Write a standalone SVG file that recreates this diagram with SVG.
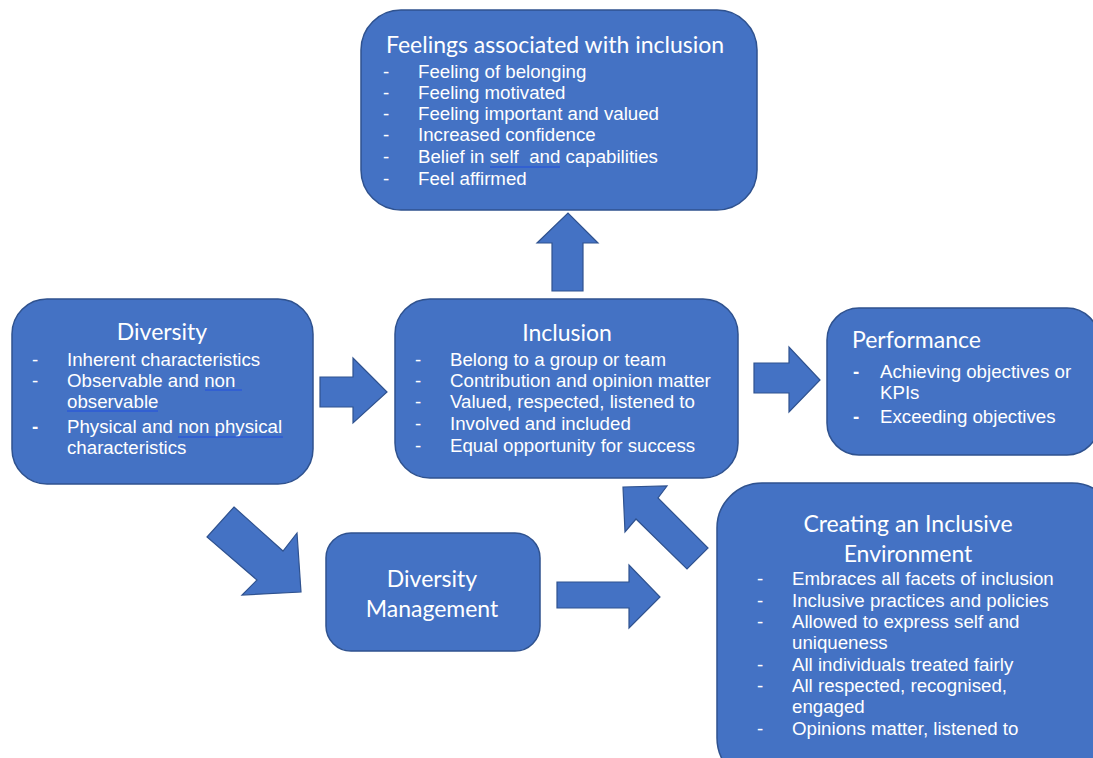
<svg xmlns="http://www.w3.org/2000/svg" width="1093" height="758" viewBox="0 0 1093 758">
<style>
.box{fill:#4472C4;stroke:#2F528F;stroke-width:1.5}
.arr{fill:#4472C4;stroke:#2F528F;stroke-width:1.2}
.ttl{font-family:Lato,"Open Sans",sans-serif;font-size:23px;fill:#fff}
.itm{font-family:"Liberation Sans",Arial,sans-serif;font-size:18.7px;fill:#fff}
.ul{stroke:#2D5BD6;stroke-width:1.4;fill:none}
</style>
<rect width="1093" height="758" fill="#fff"/>
<g id="connectors">
<polygon class="arr" points="552,291 583,291 583,243 598,243 568,213 537,243 552,243"/>
<polygon class="arr" points="320,377 353,377 353,358 387,392 353,423 353,407 320,407"/>
<polygon class="arr" points="754,363 789,363 789,347 820,380 789,412 789,393 754,393"/>
<polygon class="arr" points="557,582 629,582 629,565 660,597 629,628 629,608 557,608"/>
<polygon class="arr" points="234,507 283,551 297,533 301,592 242,595 257,580 207,537"/>
<polygon class="arr" points="623,487 667,486 658,498 708,548 687,569 636,519 625,532"/>
</g>
<g id="feelings">
<rect class="box" x="361" y="10" width="396" height="200" rx="40"/>
<text class="ttl" x="555" y="53" text-anchor="middle">Feelings associated with inclusion</text>
<g class="itm">
<text x="383" y="78">-</text><text x="418" y="78">Feeling of belonging</text>
<text x="383" y="99">-</text><text x="418" y="99">Feeling motivated</text>
<text x="383" y="120">-</text><text x="418" y="120">Feeling important and valued</text>
<text x="383" y="141">-</text><text x="418" y="141">Increased confidence</text>
<text x="383" y="163">-</text><text x="418" y="163" xml:space="preserve">Belief in self  and capabilities</text>
<text x="383" y="185">-</text><text x="418" y="185">Feel affirmed</text>
</g>
<path class="ul" d="M490,167 H560"/>
</g>
<g id="diversity">
<rect class="box" x="12" y="299" width="301" height="185" rx="35"/>
<text class="ttl" x="162" y="340" text-anchor="middle">Diversity</text>
<g class="itm">
<text x="32" y="366">-</text><text x="67" y="366">Inherent characteristics</text>
<text x="32" y="387">-</text><text x="67" y="387">Observable and non</text>
<text x="67" y="408">observable</text>
<text x="32" y="433" font-weight="bold">-</text><text x="67" y="433">Physical and non physical</text>
<text x="67" y="454">characteristics</text>
</g>
<path class="ul" d="M205,390 H242 M67,411 H158 M178,437 H283"/>
</g>
<g id="inclusion">
<rect class="box" x="395" y="299" width="343" height="179" rx="35"/>
<text class="ttl" x="567" y="341" text-anchor="middle">Inclusion</text>
<g class="itm">
<text x="415" y="366">-</text><text x="450" y="366">Belong to a group or team</text>
<text x="415" y="387">-</text><text x="450" y="387">Contribution and opinion matter</text>
<text x="415" y="408">-</text><text x="450" y="408">Valued, respected, listened to</text>
<text x="415" y="430">-</text><text x="450" y="430">Involved and included</text>
<text x="415" y="452">-</text><text x="450" y="452">Equal opportunity for success</text>
</g>
</g>
<g id="performance">
<rect class="box" x="827" y="308" width="272" height="147" rx="32"/>
<text class="ttl" x="852" y="348">Performance</text>
<g class="itm">
<text x="853" y="378" font-weight="bold">-</text><text x="880" y="378">Achieving objectives or</text>
<text x="880" y="399">KPIs</text>
<text x="853" y="423" font-weight="bold">-</text><text x="880" y="423">Exceeding objectives</text>
</g>
</g>
<g id="diversity-management">
<rect class="box" x="326" y="533" width="214" height="118" rx="25"/>
<text class="ttl" x="432" y="587" text-anchor="middle">Diversity</text>
<text class="ttl" x="432" y="617" text-anchor="middle">Management</text>
</g>
<g id="creating">
<rect class="box" x="717" y="483" width="400" height="300" rx="45"/>
<text class="ttl" x="908" y="532" text-anchor="middle">Creating an Inclusive</text>
<text class="ttl" x="908" y="562" text-anchor="middle">Environment</text>
<g class="itm">
<text x="757" y="585">-</text><text x="792" y="585">Embraces all facets of inclusion</text>
<text x="757" y="607">-</text><text x="792" y="607">Inclusive practices and policies</text>
<text x="757" y="628">-</text><text x="792" y="628">Allowed to express self and</text>
<text x="792" y="649">uniqueness</text>
<text x="757" y="671">-</text><text x="792" y="671">All individuals treated fairly</text>
<text x="757" y="692">-</text><text x="792" y="692">All respected, recognised,</text>
<text x="792" y="713">engaged</text>
<text x="757" y="735">-</text><text x="792" y="735">Opinions matter, listened to</text>
</g>
</g>
</svg>
